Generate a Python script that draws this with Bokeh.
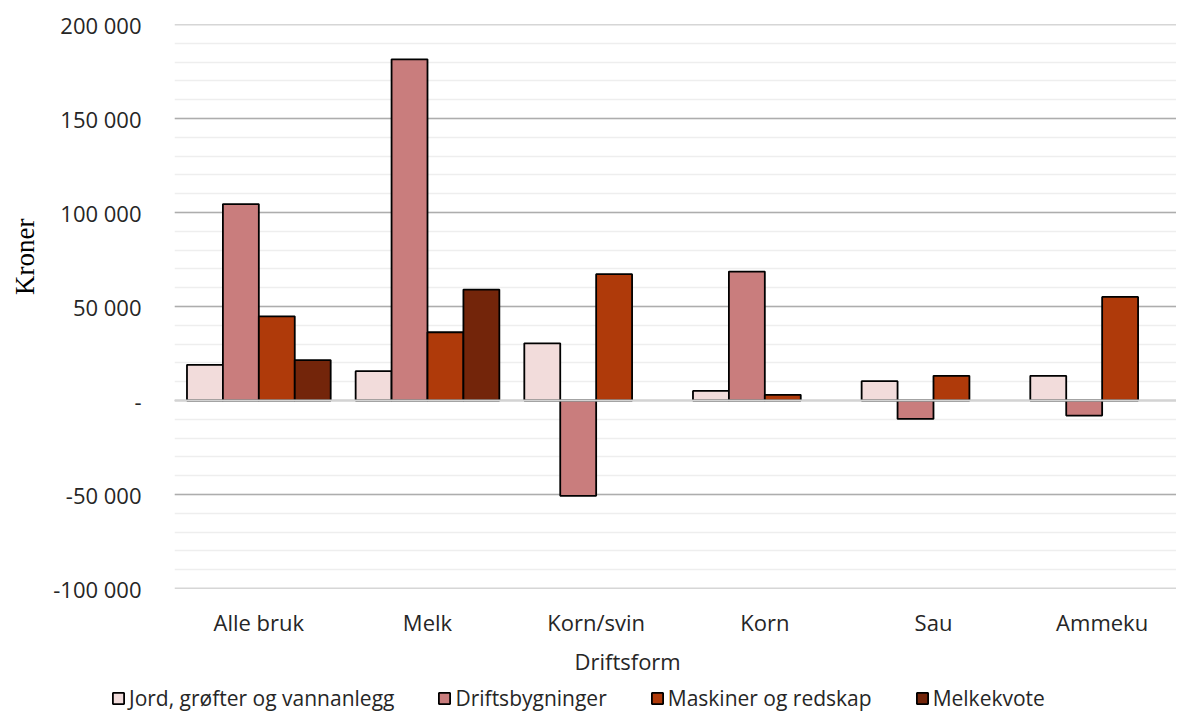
from bokeh.plotting import figure
from bokeh.layouts import column, row
from bokeh.models import (ColumnDataSource, Range1d, FixedTicker, SingleIntervalTicker,
                          Legend, LegendItem, Span, Title)
from bokeh.transform import dodge
from bokeh.embed import file_html
from bokeh.resources import INLINE

nan = float("nan")

categories = ["Alle bruk", "Melk", "Korn/svin", "Korn", "Sau", "Ammeku"]
series_names = ["Jord, grøfter og vannanlegg", "Driftsbygninger", "Maskiner og redskap", "Melkekvote"]
jord = [19000, 15600, 30400, 5100, 10300, 13100]
driftsbygninger = [104500, 181500, -50700, 68600, -9800, -8000]
maskiner = [44800, 36300, 67200, 3000, 13100, 55100]
melkekvote = [21500, 59000, nan, nan, nan, nan]
colors = ["#F2DCDB", "#C97D7D", "#AF3A0A", "#73250A"]

y_ticks = [-100000, -50000, 0, 50000, 100000, 150000, 200000]
y_tick_labels = ["-100 000", "-50 000", "-", "50 000", "100 000", "150 000", "200 000"]

FONT = "Open Sans"
TXT = "#262626"
MAJOR = "#ADADAD"

W = 1176
H_MAIN, H_LEG = 681, 31
left_px = 172
unit_px = 169.0
x_end = -0.5 + (W - left_px) / unit_px

src = ColumnDataSource(dict(
    x=list(range(len(categories))),
    jord=jord, bygg=driftsbygninger, mask=maskiner, kvote=melkekvote,
))

p = figure(width=W, height=H_MAIN, output_backend="svg", toolbar_location=None,
           x_range=Range1d(-0.5, x_end), y_range=Range1d(y_ticks[0], y_ticks[-1]),
           min_border_left=left_px, min_border_right=0, min_border_top=24,
           min_border_bottom=93, outline_line_color=None)

bw = 0.213
offsets = [-1.5 * bw, -0.5 * bw, 0.5 * bw, 1.5 * bw]
cols = ["jord", "bygg", "mask", "kvote"]
for col, off, c in zip(cols, offsets, colors):
    p.vbar(x=dodge("x", off, range=p.x_range), top=col, bottom=0, width=bw,
           source=src, fill_color=c, line_color="black", line_width=1.8)

for loc in (y_ticks[0], y_ticks[-1]):
    p.add_layout(Span(location=loc, dimension="width", line_color=MAJOR, line_width=1.5))
p.add_layout(Span(location=0, dimension="width", line_color="#D3D3D3", line_width=2, level="overlay"))

# y axis
p.yaxis.ticker = SingleIntervalTicker(interval=50000, num_minor_ticks=5)
p.yaxis.major_label_overrides = {t: l for t, l in zip(y_ticks, y_tick_labels)}
p.yaxis.axis_line_color = None
p.yaxis.major_tick_line_color = None
p.yaxis.minor_tick_line_color = None
p.yaxis.major_tick_out = 0
p.yaxis.minor_tick_out = 0
p.yaxis.major_label_standoff = 33
p.yaxis.major_label_text_font = FONT
p.yaxis.major_label_text_font_size = "22px"
p.yaxis.major_label_text_color = TXT

yt = Title(text="Kroner", align="right", offset=194, vertical_align="top",
           text_font="Liberation Serif", text_font_size="27px", text_font_style="normal",
           text_color="black", standoff=18)
p.add_layout(yt, "left")

p.ygrid.grid_line_color = MAJOR
p.ygrid.grid_line_width = 1.5
p.ygrid.minor_grid_line_color = "#EEEEEE"
p.ygrid.minor_grid_line_width = 1.5
p.xgrid.grid_line_color = None

# x axis
p.xaxis.ticker = FixedTicker(ticks=list(range(len(categories))))
p.xaxis.major_label_overrides = {i: c for i, c in enumerate(categories)}
p.xaxis.axis_line_color = None
p.xaxis.major_tick_line_color = None
p.xaxis.minor_tick_line_color = None
p.xaxis.major_tick_out = 0
p.xaxis.minor_tick_out = 0
p.xaxis.major_label_standoff = 18
p.xaxis.major_label_text_font = FONT
p.xaxis.major_label_text_font_size = "22px"
p.xaxis.major_label_text_color = TXT

xt = Title(text="Driftsform", align="left", offset=400,
           text_font=FONT, text_font_size="22px", text_font_style="normal",
           text_color=TXT, standoff=8)
p.add_layout(xt, "below")

# legend in its own strip so it can extend left of the plot frame
lf = figure(width=W, height=H_LEG, output_backend="svg", toolbar_location=None,
            x_range=Range1d(0, 1), y_range=Range1d(0, 1),
            x_axis_location=None, y_axis_location=None,
            min_border=0, outline_line_color=None)
lf.grid.visible = False
items = []
for name, c in zip(series_names, colors):
    r = lf.vbar(x=[0.5], top=[1], bottom=[0], width=0.1, fill_color=c,
                line_color="black", line_width=1.8, visible=False)
    items.append(LegendItem(label=name, renderers=[r]))
legend = Legend(items=items, orientation="horizontal", location=(111, 0),
                label_text_font=FONT, label_text_font_size="21px", label_text_color=TXT,
                glyph_width=14, glyph_height=14, spacing=43, padding=0, margin=0,
                label_standoff=4, border_line_color=None, background_fill_alpha=0,
                inactive_fill_alpha=0, click_policy="none")
lf.add_layout(legend)

open("out.html", "w").write(file_html(column(p, row(lf), spacing=0), INLINE))
